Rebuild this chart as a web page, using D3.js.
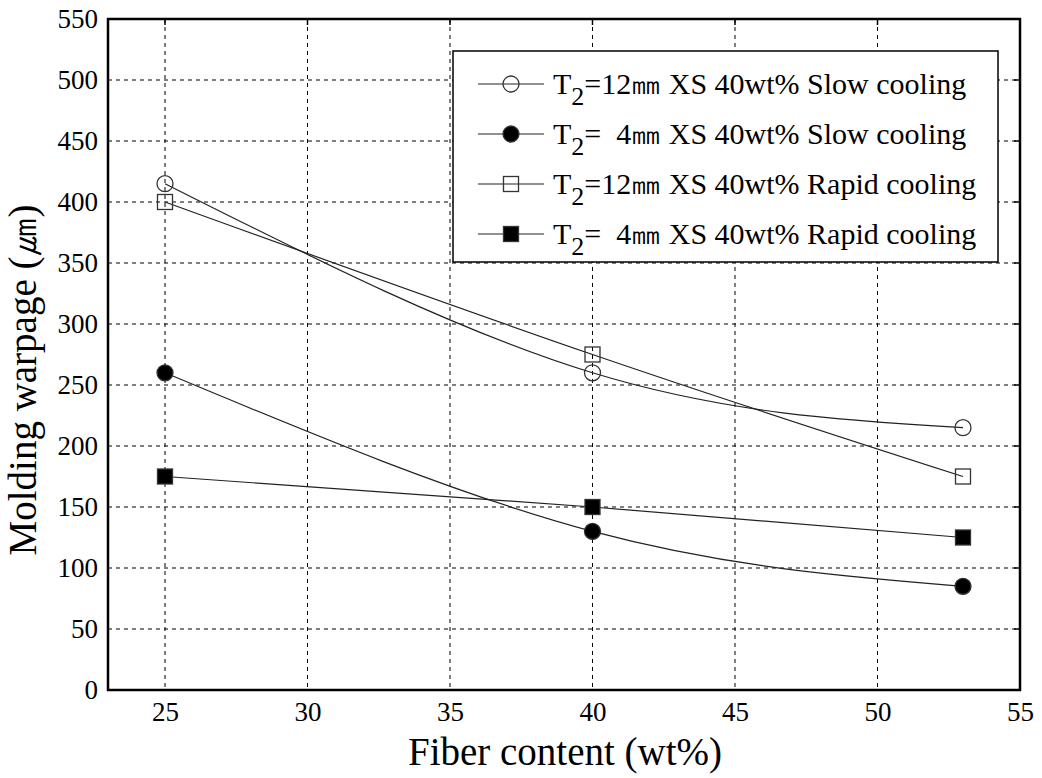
<!DOCTYPE html>
<html>
<head>
<meta charset="utf-8">
<script src="https://cdn.jsdelivr.net/npm/d3@7"></script>
<style>
  body { margin: 0; background: #fff; }
  text { font-family: "Liberation Serif", "Times New Roman", serif; fill: #000; }
</style>
</head>
<body>
<svg id="chart" width="1042" height="778"></svg>
<script>
// Fiber content (wt%) at which warpage was measured
const fiberContent = [25, 40, 53];

// Molding warpage (µm) for each condition
const slow12 = [415, 260, 215];
const slow4 = [260, 130, 85];
const rapid12 = [400, 275, 175];
const rapid4 = [175, 150, 125];

const xTicks = [25, 30, 35, 40, 45, 50, 55];
const yTicks = [0, 50, 100, 150, 200, 250, 300, 350, 400, 450, 500, 550];

const seriesNames = [
  { pre: "T", sub: "2", post: "=12\u339C XS 40wt% Slow cooling" },
  { pre: "T", sub: "2", post: "=  4\u339C XS 40wt% Slow cooling" },
  { pre: "T", sub: "2", post: "=12\u339C XS 40wt% Rapid cooling" },
  { pre: "T", sub: "2", post: "=  4\u339C XS 40wt% Rapid cooling" }
];

const series = [
  { values: slow12, shape: "circle", filled: false },
  { values: slow4, shape: "circle", filled: true },
  { values: rapid12, shape: "square", filled: false },
  { values: rapid4, shape: "square", filled: true }
];

const svg = d3.select("#chart");
const margin = { left: 108, right: 1020, top: 19, bottom: 690 };
const serif = "'Liberation Serif', 'Times New Roman', serif";

const x = d3.scaleLinear().domain([23, 55]).range([margin.left, margin.right]);
const y = d3.scaleLinear().domain([0, 550]).range([margin.bottom, margin.top]);

// dashed grid
const grid = svg.append("g");
grid.selectAll(".gx").data(xTicks.filter(t => t < 55)).enter().append("line")
  .attr("x1", d => x(d)).attr("x2", d => x(d))
  .attr("y1", margin.top).attr("y2", margin.bottom)
  .attr("stroke", "#000").attr("stroke-width", 1).attr("stroke-dasharray", "4,4");
grid.selectAll(".gy").data(yTicks.filter(t => t > 0 && t < 550)).enter().append("line")
  .attr("x1", margin.left).attr("x2", margin.right)
  .attr("y1", d => y(d)).attr("y2", d => y(d))
  .attr("stroke", "#000").attr("stroke-width", 1).attr("stroke-dasharray", "4,4");

// axes
const xAxis = d3.axisBottom(x).tickValues(xTicks).tickSize(0).tickPadding(12);
const yAxis = d3.axisLeft(y).tickValues(yTicks).tickSize(0).tickPadding(10);

const gx = svg.append("g").attr("transform", `translate(0,${margin.bottom})`).call(xAxis);
gx.attr("font-family", serif).attr("font-size", 27);
gx.select(".domain").remove();
gx.selectAll("text").attr("fill", "#000");

const gy = svg.append("g").attr("transform", `translate(${margin.left},0)`).call(yAxis);
gy.attr("font-family", serif).attr("font-size", 27);
gy.select(".domain").remove();
gy.selectAll("text").attr("fill", "#000");

// small inward ticks on top and right borders
svg.append("g").selectAll("line").data(xTicks).enter().append("line")
  .attr("x1", d => x(d)).attr("x2", d => x(d))
  .attr("y1", margin.top).attr("y2", margin.top + 6)
  .attr("stroke", "#000").attr("stroke-width", 1.5);
svg.append("g").selectAll("line").data(yTicks).enter().append("line")
  .attr("x1", margin.right - 6).attr("x2", margin.right)
  .attr("y1", d => y(d)).attr("y2", d => y(d))
  .attr("stroke", "#000").attr("stroke-width", 1.5);

// plot frame
svg.append("rect")
  .attr("x", margin.left).attr("y", margin.top)
  .attr("width", margin.right - margin.left).attr("height", margin.bottom - margin.top)
  .attr("fill", "none").attr("stroke", "#000").attr("stroke-width", 2.5);

// axis titles
svg.append("text")
  .attr("x", 565).attr("y", 765)
  .attr("text-anchor", "middle").style("font-size", "39px")
  .text("Fiber content (wt%)");
svg.append("text")
  .attr("transform", `translate(36,380) rotate(-90)`)
  .attr("text-anchor", "middle").style("font-size", "39px")
  .text("Molding warpage (\u339B)");

// series curves and markers
const line = d3.line()
  .x((d, i) => x(fiberContent[i]))
  .y(d => y(d))
  .curve(d3.curveNatural);

function drawMarker(g, cx, cy, s) {
  if (s.shape === "circle") {
    g.append("circle").attr("cx", cx).attr("cy", cy).attr("r", 8)
      .attr("fill", s.filled ? "#000" : "none").attr("stroke", "#333").attr("stroke-width", 1.3);
  } else {
    g.append("rect").attr("x", cx - 7.5).attr("y", cy - 7.5).attr("width", 15).attr("height", 15)
      .attr("fill", s.filled ? "#000" : "none").attr("stroke", "#333").attr("stroke-width", 1.3);
  }
}

const plot = svg.append("g");
series.forEach(s => {
  plot.append("path").datum(s.values).attr("d", line)
    .attr("fill", "none").attr("stroke", "#222").attr("stroke-width", 1.2);
  s.values.forEach((v, i) => drawMarker(plot, x(fiberContent[i]), y(v), s));
});

// legend
const legend = svg.append("g");
legend.append("rect")
  .attr("x", 453).attr("y", 51).attr("width", 545).attr("height", 211)
  .attr("fill", "#fff").attr("stroke", "#000").attr("stroke-width", 1.5);

series.forEach((s, i) => {
  const ly = 84 + i * 50;
  legend.append("line").attr("x1", 478).attr("x2", 544).attr("y1", ly).attr("y2", ly)
    .attr("stroke", "#222").attr("stroke-width", 1.2);
  drawMarker(legend, 511, ly, s);
  const t = legend.append("text").attr("x", 553).attr("y", ly + 10)
    .attr("xml:space", "preserve").style("white-space", "pre").style("font-size", "30px");
  t.append("tspan").text(seriesNames[i].pre);
  t.append("tspan").attr("dy", 11).style("font-size", "26px").text(seriesNames[i].sub);
  t.append("tspan").attr("dy", -11).text(seriesNames[i].post);
});
</script>
</body>
</html>
